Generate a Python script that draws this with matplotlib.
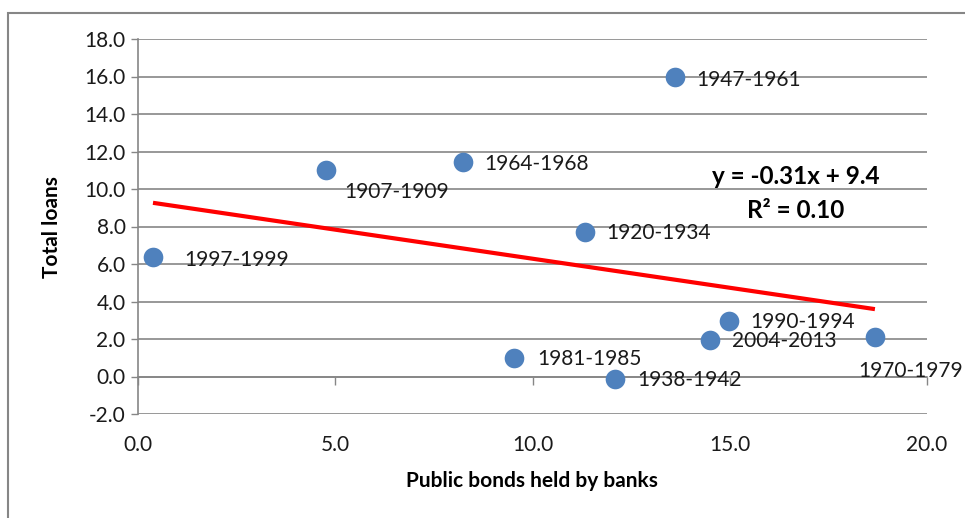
import matplotlib
matplotlib.use("Agg")
import matplotlib.pyplot as plt
import numpy as np
from matplotlib.patches import Rectangle

# Data
periods = [
    "1997-1999", "1907-1909", "1964-1968", "1947-1961", "1920-1934",
    "1981-1985", "1938-1942", "2004-2013", "1990-1994", "1970-1979",
]
public_bonds = [0.38, 4.76, 8.23, 13.6, 11.32, 9.53, 12.08, 14.5, 14.97, 18.68]
total_loans = [6.4, 11.0, 11.44, 15.95, 7.69, 0.97, -0.13, 1.93, 2.96, 2.12]

x_ticks = [0.0, 5.0, 10.0, 15.0, 20.0]
y_ticks = [-2.0, 0.0, 2.0, 4.0, 6.0, 8.0, 10.0, 12.0, 14.0, 16.0, 18.0]

equation_text = "y = -0.31x + 9.4"
r2_text = "R\u00b2 = 0.10"

plt.rcParams["font.family"] = ["Lato", "DejaVu Sans"]

GRID = "#868686"
BLUE = "#4F81BD"

fig = plt.figure(figsize=(9.65, 5.18), dpi=100)
ax = fig.add_axes([138 / 965, 1 - 414 / 518, (927 - 138) / 965, (414 - 39) / 518])

# outer chart frame (cut off at right and bottom in the reference)
fig.patches.append(Rectangle(
    (8 / 965, -0.2), 2.0, 1.2 - 13 / 518,
    transform=fig.transFigure, fill=False, edgecolor=GRID, linewidth=1.5,
))

ax.set_xlim(0, 20)
ax.set_ylim(-2, 18)
ax.set_yticks(y_ticks)
ax.set_xticks(x_ticks)
ax.set_yticklabels([f"{v:.1f}" for v in y_ticks])
ax.set_xticklabels([f"{v:.1f}" for v in x_ticks])

ax.yaxis.grid(True, color=GRID, linewidth=1.2)
ax.set_axisbelow(True)
for side in ["top", "right"]:
    ax.spines[side].set_visible(False)
ax.spines["left"].set_color(GRID)
ax.spines["left"].set_linewidth(1.2)
ax.spines["bottom"].set_position(("data", 0))
ax.spines["bottom"].set_color(GRID)
ax.spines["bottom"].set_linewidth(1.2)

ax.tick_params(axis="y", direction="out", length=5, width=1, color=GRID,
               labelsize=15, pad=4, labelcolor="#1a1a1a")
ax.tick_params(axis="x", direction="out", length=6, width=1, color=GRID,
               labelsize=15, pad=36, labelcolor="#1a1a1a")

ax.scatter(public_bonds, total_loans, s=200, color=BLUE, zorder=3, linewidths=0)

# linear trend line
slope, intercept = np.polyfit(public_bonds, total_loans, 1)
x_fit = np.array([min(public_bonds), max(public_bonds)])
ax.plot(x_fit, slope * x_fit + intercept, color="#FF0000", linewidth=3,
        zorder=2, solid_capstyle="butt")

# label offsets in pixels (dx, dy) relative to each point
offsets = [
    (31, -4), (18, -22), (22, -2), (22, -3), (22, -1),
    (23, -1), (23, -1), (22, -1), (22, -1), (-17, -34),
]
for name, xv, yv, (dx, dy) in zip(periods, public_bonds, total_loans, offsets):
    ax.annotate(name, (xv, yv), xytext=(dx * 0.72, dy * 0.72),
                textcoords="offset points", ha="left", va="center",
                fontsize=15, color="#1a1a1a", zorder=4)

ax.text(796 / 965, 1 - 177 / 518, equation_text, transform=fig.transFigure,
        ha="center", va="center", fontsize=17.5, fontweight="bold")
ax.text(796 / 965, 1 - 210 / 518, r2_text, transform=fig.transFigure,
        ha="center", va="center", fontsize=17.5, fontweight="bold")

fig.text(532 / 965, 1 - 481 / 518, "Public bonds held by banks",
         ha="center", va="center", fontsize=15, fontweight="bold")
fig.text(52 / 965, 1 - 227 / 518, "Total loans", rotation=90,
         ha="center", va="center", fontsize=15, fontweight="bold")

fig.savefig("out.png", dpi=100)
